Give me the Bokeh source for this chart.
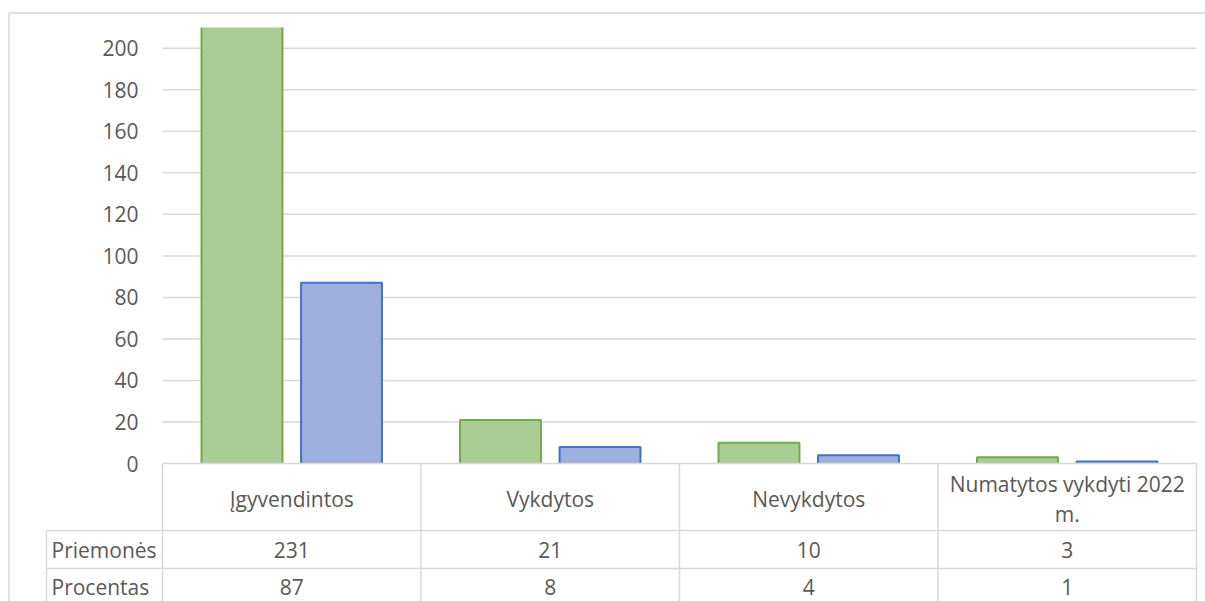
import textwrap
import numpy as np
from bokeh.plotting import figure
from bokeh.models import Range1d
from bokeh.core.properties import value
from bokeh.embed import file_html
from bokeh.resources import INLINE

# ---------------- data ----------------
categories = ["Įgyvendintos", "Vykdytos", "Nevykdytos", "Numatytos vykdyti 2022 m."]
series_names = ["Priemonės", "Procentas"]
priemones = [231, 21, 10, 3]
procentas = [87, 8, 4, 1]
y_ticks = [0, 20, 40, 60, 80, 100, 120, 140, 160, 180, 200]
y_max = 210

# ---------------- layout (canvas pixels) ----------------
W, H = 1205, 601
PLOT_LEFT = 162      # canvas x of first category boundary
PLOT_RIGHT = 1196    # canvas x of last category boundary
PLOT_TOP = 27        # canvas y of y_max
ZERO_Y = 463         # canvas y of value 0
ROW1_Y = 530         # canvas y of line under header row
ROW2_Y = 568         # canvas y of line under first data row
ROW3_Y = 606         # canvas y of line under second data row
LABEL_COL_X = 46     # canvas x of row label column left edge
YLAB_X = 138         # canvas x right edge of y tick labels
BORDER_X, BORDER_Y = 8.5, 12.5

ncat = len(categories)
ux = (PLOT_RIGHT - PLOT_LEFT) / ncat
uy = (ZERO_Y - PLOT_TOP) / y_max

x0 = -PLOT_LEFT / ux
x1 = (W - PLOT_LEFT) / ux
y0 = -(H - ZERO_Y) / uy
y1 = y_max + PLOT_TOP / uy

FONT = value("Open Sans")
TXT = "#595959"
GRID = "#d9d9d9"
FS = "21px"

p = figure(width=W, height=H, output_backend="svg", toolbar_location=None,
           x_range=Range1d(x0, x1), y_range=Range1d(y0, y1),
           min_border=0, min_border_left=0, min_border_right=0,
           min_border_top=0, min_border_bottom=0)
p.axis.visible = False
p.grid.visible = False
p.outline_line_color = None
p.background_fill_color = "white"
p.border_fill_color = "white"

# pixel-space helper ranges for layout lines
p.extra_x_ranges = {"px": Range1d(0, W)}
p.extra_y_ranges = {"px": Range1d(H, 0)}

# outer chart border
p.segment(x0=[BORDER_X, BORDER_X], y0=[H, BORDER_Y], x1=[BORDER_X, W], y1=[BORDER_Y, BORDER_Y],
          line_color=GRID, line_width=1.5, x_range_name="px", y_range_name="px")

# gridlines from ticks
gt = [t for t in y_ticks if t > 0]
p.segment(x0=[0] * len(gt), y0=gt, x1=[ncat] * len(gt), y1=gt,
          line_color=GRID, line_width=1.5)

# y tick labels
ytx = (YLAB_X - PLOT_LEFT) / ux
p.text(x=[ytx] * len(y_ticks), y=y_ticks, text=[str(t) for t in y_ticks],
       text_align="right", text_baseline="middle", text_color=TXT,
       text_font=FONT, text_font_size=FS)

# bars
centers = np.arange(ncat) + 0.5
bw = 0.313
off = 0.1925
series = [(priemones, "#aacd96", "#70ad47", -off), (procentas, "#9cafdd", "#4472c4", off)]
for vals, fill, line, o in series:
    v = np.array(vals, dtype=float)
    top = np.minimum(v, y_max)
    xc = centers + o
    p.vbar(x=xc, width=bw, bottom=0, top=top, fill_color=fill, line_color=None)
    xs, ys = [], []
    for xi, ti, vi in zip(xc, top, v):
        l, r = xi - bw / 2, xi + bw / 2
        if vi > y_max:
            xs += [[l, l], [r, r]]
            ys += [[0, ti], [0, ti]]
        else:
            xs.append([l, l, r, r])
            ys.append([0, ti, ti, 0])
    p.multi_line(xs=xs, ys=ys, line_color=line, line_width=2)

# ---------------- data table ----------------
p.segment(x0=[PLOT_LEFT, LABEL_COL_X, LABEL_COL_X, LABEL_COL_X],
          y0=[ZERO_Y, ROW1_Y, ROW2_Y, ROW3_Y],
          x1=[PLOT_RIGHT] * 4, y1=[ZERO_Y, ROW1_Y, ROW2_Y, ROW3_Y],
          line_color=GRID, line_width=1.5, x_range_name="px", y_range_name="px")
bx = [PLOT_LEFT + i * ux for i in range(ncat + 1)]
p.segment(x0=bx, y0=[ZERO_Y] * len(bx), x1=bx, y1=[H] * len(bx),
          line_color=GRID, line_width=1.5, x_range_name="px", y_range_name="px")
p.segment(x0=[LABEL_COL_X], y0=[ROW1_Y], x1=[LABEL_COL_X], y1=[H],
          line_color=GRID, line_width=1.5, x_range_name="px", y_range_name="px")

# header labels
hdr_y = (ZERO_Y + ROW1_Y) / 2 + 2
hdr = [textwrap.fill(c, 22) for c in categories]
p.text(x=[PLOT_LEFT + (i + 0.5) * ux for i in range(ncat)], y=[hdr_y] * ncat,
       text=hdr, text_align="center", text_baseline="middle", text_color=TXT,
       text_font=FONT, text_font_size=FS, text_line_height=1.1,
       x_range_name="px", y_range_name="px")

# row labels and values
row_y = [(ROW1_Y + ROW2_Y) / 2, (ROW2_Y + ROW3_Y) / 2 - 1]
p.text(x=[LABEL_COL_X + 5] * 2, y=row_y, text=series_names,
       text_align="left", text_baseline="middle", text_color=TXT,
       text_font=FONT, text_font_size=FS, x_range_name="px", y_range_name="px")
for vals, ry in zip([priemones, procentas], row_y):
    p.text(x=[PLOT_LEFT + (i + 0.5) * ux for i in range(ncat)], y=[ry] * ncat,
           text=[str(v) for v in vals], text_align="center", text_baseline="middle",
           text_color=TXT, text_font=FONT, text_font_size=FS,
           x_range_name="px", y_range_name="px")

open("out.html", "w").write(file_html(p, INLINE))
